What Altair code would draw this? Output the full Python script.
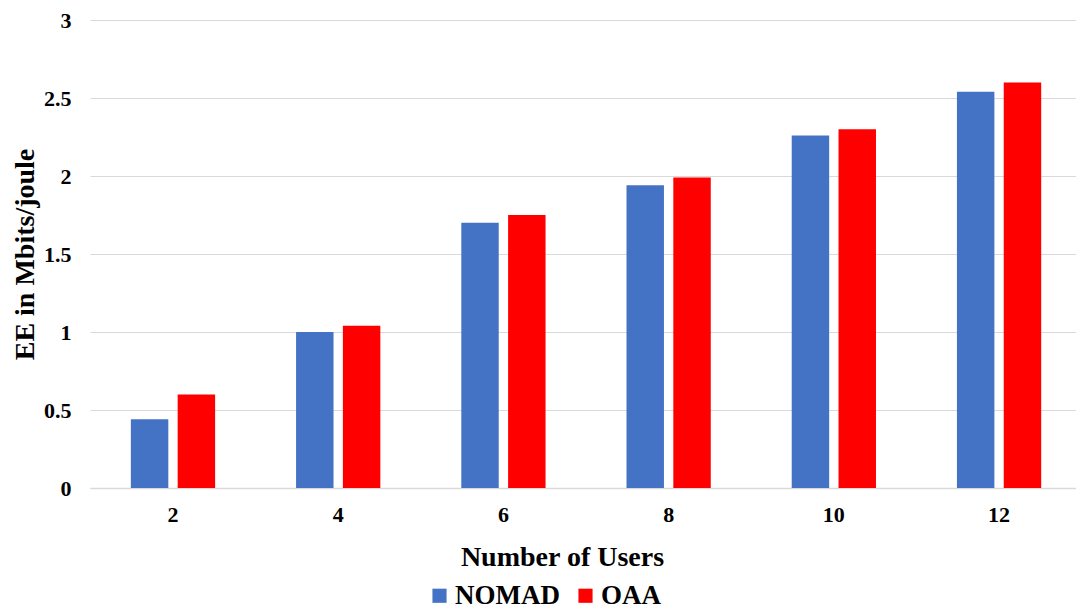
import altair as alt
import pandas as pd

users = ["2", "4", "6", "8", "10", "12"]
nomad = [0.44, 1.00, 1.70, 1.94, 2.26, 2.54]
oaa = [0.60, 1.04, 1.75, 1.99, 2.30, 2.60]
series = ["NOMAD", "OAA"]
colors = ["#4472C4", "#FF0000"]

rows = []
for u, a, b in zip(users, nomad, oaa):
    rows.append({"users": u, "series": "NOMAD", "ee": a})
    rows.append({"users": u, "series": "OAA", "ee": b})
df = pd.DataFrame(rows)

font = "Liberation Serif"

chart = alt.Chart(df).mark_bar().encode(
    x=alt.X("users:N", sort=users,
            scale=alt.Scale(paddingInner=0.49, paddingOuter=0.229, align=0.54),
            axis=alt.Axis(title="Number of Users", labelAngle=0, ticks=False,
                          labelFontSize=22, labelFontWeight="bold", labelFont=font,
                          labelColor="#000", labelPadding=16,
                          titleFontSize=28, titleFontWeight="bold", titleFont=font,
                          titleColor="#000", titlePadding=18, titleX=472,
                          domainColor="#d9d9d9", domainWidth=1.5, grid=False)),
    xOffset=alt.XOffset("series:N", sort=series,
                        scale=alt.Scale(paddingInner=0.2, paddingOuter=0)),
    y=alt.Y("ee:Q", scale=alt.Scale(domain=[0, 3]),
            axis=alt.Axis(title="EE in Mbits/joule", values=[0, 0.5, 1, 1.5, 2, 2.5, 3],
                          format="~g",
                          ticks=False, domain=False, labelFontSize=22,
                          labelFontWeight="bold", labelFont=font, labelColor="#000",
                          labelPadding=19, gridColor="#d9d9d9", gridWidth=1,
                          titleFontSize=28, titleFontWeight="bold", titleFont=font,
                          titleColor="#000", titlePadding=4)),
    color=alt.Color("series:N", sort=series,
                    scale=alt.Scale(domain=series, range=colors),
                    legend=alt.Legend(title=None, orient="none", direction="horizontal",
                                      legendX=336, legendY=562, symbolType="square",
                                      symbolSize=200, symbolStrokeWidth=0,
                                      labelFontSize=27, labelFontWeight="bold",
                                      labelFont=font, labelColor="#000",
                                      columnPadding=12, labelOffset=2)),
).properties(
    width=986, height=468,
    autosize=alt.AutoSizeParams(type="none"),
    padding={"left": 82, "top": 12, "right": 0, "bottom": 124},
).configure_view(stroke=None)

chart.save("out.html", embed_options={"renderer": "svg", "actions": False})
